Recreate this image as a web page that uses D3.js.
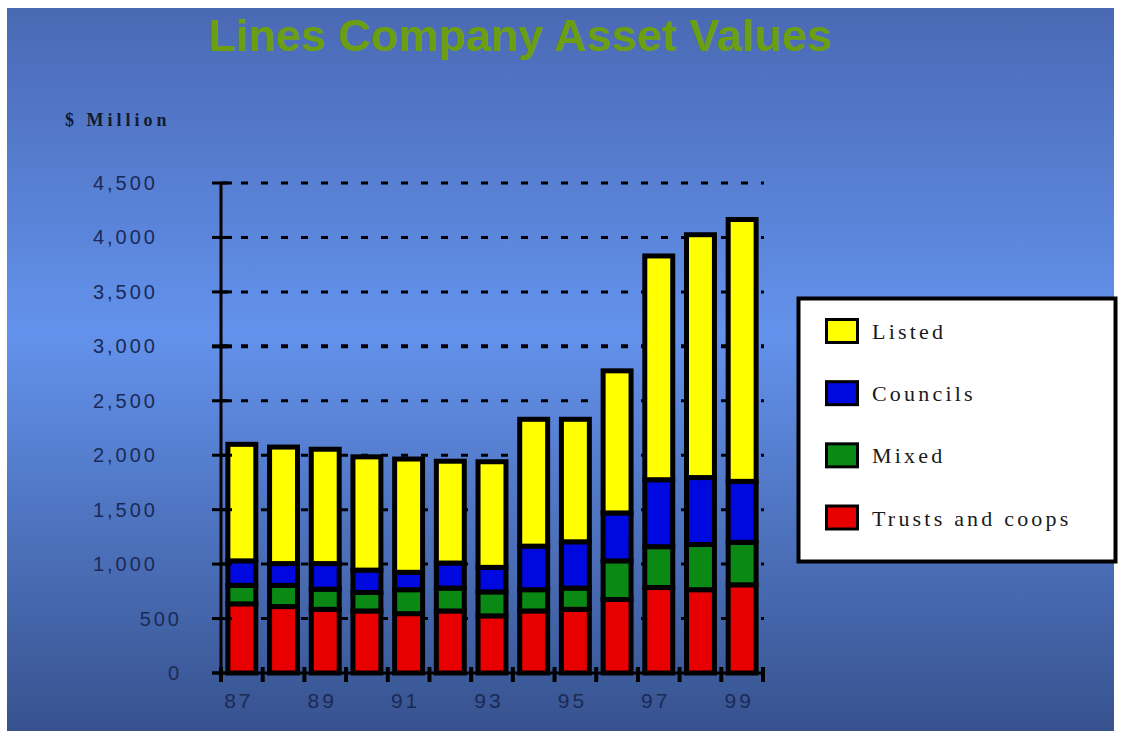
<!DOCTYPE html>
<html>
<head>
<meta charset="utf-8">
<script src="https://cdn.jsdelivr.net/npm/d3@7"></script>
<style>
  body { margin: 0; background: #fff; }
  svg { display: block; }
</style>
</head>
<body>
<div id="chart"></div>
<script>
const widthValue = 1121;
const heightValue = 731;

// data ($ million)
const years = ["87", "88", "89", "90", "91", "92", "93", "94", "95", "96", "97", "98", "99"];
const trusts = [635, 610, 585, 570, 545, 570, 525, 570, 585, 675, 785, 765, 810];
const mixed = [170, 195, 185, 170, 220, 210, 220, 195, 195, 355, 375, 415, 390];
const councils = [225, 200, 235, 205, 160, 230, 225, 400, 425, 440, 615, 615, 560];
const listed = [1070, 1070, 1050, 1040, 1040, 935, 970, 1165, 1125, 1305, 2055, 2230, 2405];
const seriesNames = ["Trusts and coops", "Mixed", "Councils", "Listed"];
const seriesColors = ["#e80000", "#0a8a14", "#0008e0", "#ffff00"];
const yTicks = [0, 500, 1000, 1500, 2000, 2500, 3000, 3500, 4000, 4500];
const xLabels = ["87", "89", "91", "93", "95", "97", "99"];

const rows = years.map((yr, i) => ({
  year: yr,
  "Trusts and coops": trusts[i],
  "Mixed": mixed[i],
  "Councils": councils[i],
  "Listed": listed[i]
}));

const svg = d3.select("#chart")
  .append("svg")
  .attr("width", widthValue)
  .attr("height", heightValue);

// background gradient
const grad = svg.append("defs").append("linearGradient")
  .attr("id", "bg")
  .attr("x1", 0).attr("y1", 0).attr("x2", 0).attr("y2", 1);
grad.append("stop").attr("offset", "0%").attr("stop-color", "#4a69b4");
grad.append("stop").attr("offset", "45%").attr("stop-color", "#6392ec");
grad.append("stop").attr("offset", "100%").attr("stop-color", "#37528e");

svg.append("rect")
  .attr("x", 7).attr("y", 8)
  .attr("width", 1107).attr("height", 723)
  .attr("fill", "url(#bg)");

// title
svg.append("text")
  .attr("x", 520).attr("y", 51)
  .attr("text-anchor", "middle")
  .style("font-family", "'Liberation Sans', Arial, sans-serif")
  .style("font-weight", "bold")
  .style("font-size", "45px")
  .style("fill", "#6c9e12")
  .text("Lines Company Asset Values");

svg.append("text")
  .attr("x", 65).attr("y", 126)
  .style("font-family", "'Liberation Serif', 'Times New Roman', serif")
  .style("font-weight", "bold")
  .style("font-size", "18px")
  .style("letter-spacing", "4px")
  .style("fill", "#111a30")
  .text("$ Million");

// scales
const x = d3.scaleBand()
  .domain(years)
  .range([221, 763]);

const y = d3.scaleLinear()
  .domain([0, 4500])
  .range([673, 183]);

// dashed gridlines
svg.append("g")
  .selectAll("line")
  .data(yTicks.filter(d => d > 0))
  .join("line")
  .attr("x1", 221).attr("x2", 764)
  .attr("y1", d => y(d)).attr("y2", d => y(d))
  .attr("stroke", "#000")
  .attr("stroke-width", d => d === 3000 ? 4 : 3)
  .attr("stroke-dasharray", "7,13");

// stacked bars
const stack = d3.stack().keys(seriesNames);
const stacked = stack(rows);
const barW = x.bandwidth() * 0.67;

svg.append("g")
  .selectAll("g")
  .data(stacked)
  .join("g")
  .attr("fill", (d, i) => seriesColors[i])
  .selectAll("rect")
  .data(d => d)
  .join("rect")
  .attr("x", d => x(d.data.year) + (x.bandwidth() - barW) / 2)
  .attr("width", barW)
  .attr("y", d => y(d[1]))
  .attr("height", d => y(d[0]) - y(d[1]))
  .attr("stroke", "#000")
  .attr("stroke-width", 5);

// y axis
const yAxis = svg.append("g");
yAxis.append("line")
  .attr("x1", 221).attr("x2", 221)
  .attr("y1", y(4500)).attr("y2", y(0) + 6)
  .attr("stroke", "#000").attr("stroke-width", 3);
yAxis.selectAll(".ytick")
  .data(yTicks)
  .join("line")
  .attr("class", "ytick")
  .attr("x1", 212).attr("x2", 232)
  .attr("y1", d => y(d)).attr("y2", d => y(d))
  .attr("stroke", "#000").attr("stroke-width", d => d === 3000 ? 4 : 3);
yAxis.selectAll(".ylab")
  .data(yTicks)
  .join("text")
  .attr("class", "ylab")
  .attr("x", d => d >= 1000 ? 158 : 182)
  .attr("y", d => y(d))
  .attr("dy", "0.35em")
  .attr("text-anchor", "end")
  .style("font-family", "'Liberation Sans', Arial, sans-serif")
  .style("font-size", "20px")
  .style("letter-spacing", "3px")
  .style("fill", "#1b2a55")
  .text(d => d3.format(",")(d));

// x axis
const xAxis = svg.append("g");
xAxis.append("line")
  .attr("x1", 212).attr("x2", 765)
  .attr("y1", y(0)).attr("y2", y(0))
  .attr("stroke", "#000").attr("stroke-width", 3);
xAxis.selectAll(".xtick")
  .data(years.concat(["end"]))
  .join("line")
  .attr("class", "xtick")
  .attr("x1", (d, i) => x.range()[0] + i * x.bandwidth())
  .attr("x2", (d, i) => x.range()[0] + i * x.bandwidth())
  .attr("y1", y(0) - 6).attr("y2", y(0) + 9)
  .attr("stroke", "#000").attr("stroke-width", 4);
xAxis.selectAll(".xlab")
  .data(xLabels)
  .join("text")
  .attr("class", "xlab")
  .attr("x", d => x(d) + x.bandwidth() / 2 - 3)
  .attr("y", 708)
  .attr("text-anchor", "middle")
  .style("font-family", "'Liberation Sans', Arial, sans-serif")
  .style("font-size", "21px")
  .style("letter-spacing", "3px")
  .style("fill", "#1b2a55")
  .text(d => d);

// legend
const legend = svg.append("g");
legend.append("rect")
  .attr("x", 798.5).attr("y", 298.5)
  .attr("width", 317).attr("height", 263)
  .attr("fill", "#fff")
  .attr("stroke", "#000").attr("stroke-width", 4);

const legendItems = seriesNames.slice().reverse();
const legendY = d3.scalePoint()
  .domain(legendItems)
  .range([331, 517.5]);

const item = legend.selectAll(".item")
  .data(legendItems)
  .join("g")
  .attr("class", "item")
  .attr("transform", d => `translate(0,${legendY(d)})`);
item.append("rect")
  .attr("x", 826.5).attr("y", -11.5)
  .attr("width", 31).attr("height", 23)
  .attr("fill", d => seriesColors[seriesNames.indexOf(d)])
  .attr("stroke", "#000").attr("stroke-width", 3);
item.append("text")
  .attr("x", 872).attr("y", 8)
  .style("font-family", "'Liberation Serif', 'Times New Roman', serif")
  .style("font-size", "22px")
  .style("letter-spacing", "3.2px")
  .style("fill", "#1a1a1a")
  .text(d => d);
</script>
</body>
</html>
